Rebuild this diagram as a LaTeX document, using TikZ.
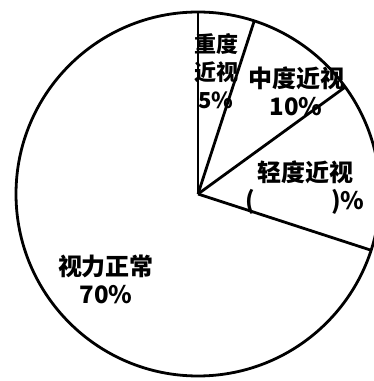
\documentclass[tikz,border=0pt]{standalone}
\usepackage{fontspec}
\setmainfont{Noto Sans CJK SC}
\usepackage{tikz}
\usetikzlibrary{positioning}
\tikzstyle{pieline} = [line width=2.8pt, color=black]
\tikzstyle{slicelabel} = [align=center, inner sep=0pt, font=\bfseries\fontsize{24}{28}\selectfont]

\begin{document}
\begin{tikzpicture}[x=1pt,y=1pt]
\useasboundingbox (0,0) rectangle (374,381);
% Pie outline
\coordinate (o) at (198,187);
\draw[pieline] (o) circle (182pt);

% Slice borders
\foreach \a in {90,72,36,-18}
  \draw[pieline] (o) -- ++(\a:182pt);

% Labels
\node[slicelabel, font=\bfseries\fontsize{22}{28}\selectfont] (severe) at (216,310) {重度\\近视\\5\%};
\node[slicelabel] (medium) at (296,290) {中度近视\\10\%};
\node[slicelabel] (mild) at (305,193) {轻度近视\\(\hspace{76pt})\%};
\node[slicelabel] (normal) at (106,102) {视力正常\\70\%};
\end{tikzpicture}
\end{document}
